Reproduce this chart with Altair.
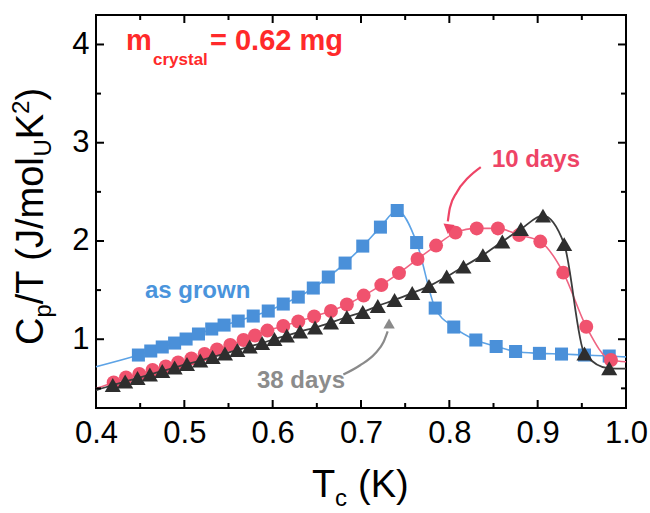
import altair as alt
import pandas as pd

# ---------------- data ----------------
blue_T = [0.448, 0.462, 0.475, 0.489, 0.502, 0.516, 0.531, 0.545, 0.561, 0.578,
          0.595, 0.612, 0.629, 0.646, 0.663, 0.682, 0.702, 0.722, 0.741, 0.763,
          0.784, 0.805, 0.830, 0.853, 0.875, 0.902, 0.927, 0.953, 0.981]
blue_C = [0.839, 0.880, 0.921, 0.961, 1.002, 1.053, 1.104, 1.144, 1.185, 1.236,
          1.287, 1.358, 1.429, 1.521, 1.633, 1.775, 1.948, 2.141, 2.310, 1.984,
          1.317, 1.124, 0.992, 0.926, 0.875, 0.856, 0.849, 0.839, 0.829]
blue_fit_ends_T = [0.4, 1.0]
blue_fit_ends_C = [0.72, 0.82]

red_T = [0.420, 0.434, 0.449, 0.464, 0.479, 0.493, 0.508, 0.523, 0.537, 0.552,
         0.567, 0.580, 0.594, 0.612, 0.629, 0.647, 0.666, 0.684, 0.703, 0.723,
         0.743, 0.764, 0.785, 0.807, 0.831, 0.855, 0.879, 0.903, 0.929, 0.955, 0.983]
red_C = [0.560, 0.610, 0.646, 0.687, 0.722, 0.763, 0.804, 0.849, 0.895, 0.941,
         0.992, 1.038, 1.088, 1.134, 1.180, 1.231, 1.287, 1.353, 1.444, 1.551,
         1.673, 1.816, 1.953, 2.085, 2.128, 2.128, 2.060, 1.994, 1.678, 1.127, 0.788]
red_fit_ends_T = [0.4, 1.0]
red_fit_ends_C = [0.50, 0.77]

black_T = [0.419, 0.433, 0.447, 0.461, 0.475, 0.489, 0.503, 0.518, 0.532, 0.546,
           0.560, 0.574, 0.588, 0.602, 0.616, 0.631, 0.648, 0.666, 0.684, 0.702,
           0.719, 0.738, 0.758, 0.777, 0.797, 0.816, 0.838, 0.860, 0.881, 0.906,
           0.930, 0.953, 0.981]
black_C = [0.534, 0.570, 0.605, 0.641, 0.676, 0.712, 0.748, 0.783, 0.819, 0.854,
           0.890, 0.926, 0.961, 1.002, 1.038, 1.078, 1.119, 1.170, 1.226, 1.277,
           1.338, 1.400, 1.470, 1.541, 1.638, 1.739, 1.856, 1.994, 2.121, 2.258,
           1.968, 0.854, 0.704]
black_fit_ends_T = [0.4, 1.0]
black_fit_ends_C = [0.48, 0.70]

# annotation arrows (data units)
arrow10_T = [0.8356, 0.8209, 0.8085, 0.8006, 0.7983]
arrow10_C = [2.752, 2.640, 2.497, 2.335, 2.20]
arrow10_head = (0.7990, 2.12)
arrow38_T = [0.6800, 0.6990, 0.7160, 0.7255, 0.7302]
arrow38_C = [0.640, 0.735, 0.855, 0.971, 1.080]
arrow38_head = (0.7318, 1.160)

# ticks
x_major = [0.4, 0.5, 0.6, 0.7, 0.8, 0.9, 1.0]
x_minor = [0.45, 0.55, 0.65, 0.75, 0.85, 0.95]
y_major = [1, 2, 3, 4]
y_minor = [0.5, 1.5, 2.5, 3.5]

X_DOMAIN = [0.4, 1.0]
Y_DOMAIN = [0.3, 4.3]
W, H = 530, 393
FONT = "Liberation Sans"

BLUE_M, BLUE_L = "#4a90d9", "#5da3e6"
RED_M, RED_L = "#f0526e", "#ef6482"
BLK_M, BLK_L = "#2e2e2e", "#3c3c3c"

xs = alt.Scale(domain=X_DOMAIN, nice=False, zero=False)
ys = alt.Scale(domain=Y_DOMAIN, nice=False, zero=False)
xaxis = alt.Axis(values=x_major, format=".1f", title=None, labelPadding=10,
                 labelFlush=False, labelOverlap=False, ticks=False, domain=False,
                 grid=False, tickSize=0)
yaxis = alt.Axis(values=y_major, format="d", title=None, labelPadding=7,
                 labelOverlap=False, ticks=False, domain=False, grid=False,
                 tickSize=0, labelFlush=False)


def X(field):
    return alt.X(f"{field}:Q", scale=xs, axis=xaxis)


def Y(field):
    return alt.Y(f"{field}:Q", scale=ys, axis=yaxis)


def series(T, C, ends_T, ends_C, lcol, mcol, shape, size, lw):
    line_df = pd.DataFrame({"T": [ends_T[0]] + T + [ends_T[1]],
                            "C": [ends_C[0]] + C + [ends_C[1]]})
    pts_df = pd.DataFrame({"T": T, "C": C})
    line = alt.Chart(line_df).mark_line(color=lcol, strokeWidth=lw,
                                        interpolate="monotone").encode(x=X("T"), y=Y("C"))
    pts = alt.Chart(pts_df).mark_point(shape=shape, filled=True, size=size, color=mcol,
                                       opacity=1).encode(x=X("T"), y=Y("C"))
    return [line, pts]


layers = []
layers += series(blue_T, blue_C, blue_fit_ends_T, blue_fit_ends_C, BLUE_L, BLUE_M, "square", 170, 1.6)
layers += series(red_T, red_C, red_fit_ends_T, red_fit_ends_C, RED_L, RED_M, "circle", 195, 1.6)
layers += series(black_T, black_C, black_fit_ends_T, black_fit_ends_C, BLK_L, BLK_M, "triangle-up", 260, 1.8)

# arrows
a10 = pd.DataFrame({"T": arrow10_T, "C": arrow10_C})
layers.append(alt.Chart(a10).mark_line(color="#ee4466", strokeWidth=2.2,
                                       interpolate="monotone").encode(x=X("T"), y=Y("C"), order=alt.Order("C:Q", sort="descending")))
layers.append(alt.Chart(pd.DataFrame({"T": [arrow10_head[0]], "C": [arrow10_head[1]]}))
              .mark_point(shape="triangle-down", filled=True, size=130, color="#ee4466", opacity=1, angle=8)
              .encode(x=X("T"), y=Y("C")))
a38 = pd.DataFrame({"T": arrow38_T, "C": arrow38_C})
layers.append(alt.Chart(a38).mark_line(color="#8a8a8a", strokeWidth=2.2,
                                       interpolate="monotone").encode(x=X("T"), y=Y("C")))
layers.append(alt.Chart(pd.DataFrame({"T": [arrow38_head[0]], "C": [arrow38_head[1]]}))
              .mark_point(shape="triangle-up", filled=True, size=130, color="#8a8a8a", opacity=1)
              .encode(x=X("T"), y=Y("C")))

# inward ticks on all four sides
for vals, ln in ((x_major, 8), (x_minor, 5)):
    df = pd.DataFrame({"v": vals})
    layers.append(alt.Chart(df).mark_rule(color="black", strokeWidth=2)
                  .encode(x=X("v"), y=alt.value(H), y2=alt.value(H - ln)))
    layers.append(alt.Chart(df).mark_rule(color="black", strokeWidth=2)
                  .encode(x=X("v"), y=alt.value(0), y2=alt.value(ln)))
for vals, ln in ((y_major, 8), (y_minor, 5)):
    df = pd.DataFrame({"v": vals})
    layers.append(alt.Chart(df).mark_rule(color="black", strokeWidth=2)
                  .encode(y=Y("v"), x=alt.value(0), x2=alt.value(ln)))
    layers.append(alt.Chart(df).mark_rule(color="black", strokeWidth=2)
                  .encode(y=Y("v"), x=alt.value(W), x2=alt.value(W - ln)))


def txt(s, x, y, size, color="black", weight="normal", angle=0):
    props = dict(align="left", baseline="alphabetic", font=FONT, fontSize=size,
                 fontWeight=weight, color=color)
    if angle:
        props["angle"] = angle
    return alt.Chart(pd.DataFrame({"s": [s]})).mark_text(**props).encode(
        text="s:N", x=alt.value(x), y=alt.value(y))


# annotations
layers.append(txt("as grown", 49, 283, 24, "#4a94dc", "bold"))
layers.append(txt("10 days", 396, 152, 24, "#ee4466", "bold"))
layers.append(txt("38 days", 161, 373, 24, "#8c8c8c", "bold"))
RED_TXT = "#ff2a2a"
layers.append(txt("m", 30, 35, 29, RED_TXT, "bold"))
layers.append(txt("crystal", 57, 50, 17, RED_TXT, "bold"))
layers.append(txt("= 0.62 mg", 114, 35, 29, RED_TXT, "bold"))

# x-axis title  T_c (K)
layers.append(txt("T", 216, 482, 38))
layers.append(txt("c", 239, 491, 24))
layers.append(txt("(K)", 262, 482, 38))

# y-axis title  C_p/T (J/mol_U K^2)  rotated
YX = -53
layers.append(txt("C", YX, 330, 38, angle=270))
layers.append(txt("p", YX + 8, 302.6, 24, angle=270))
layers.append(txt("/T (J/mol", YX, 289.3, 38, angle=270))
layers.append(txt("U", YX + 8, 141.5, 24, angle=270))
layers.append(txt("K", YX, 124.2, 38, angle=270))
layers.append(txt("2", YX - 14, 98.9, 24, angle=270))
layers.append(txt(")", YX, 85.6, 38, angle=270))

chart = alt.layer(*layers).properties(
    width=W, height=H,
    padding={"left": 96, "top": 15, "right": 24, "bottom": 105},
    autosize=alt.AutoSizeParams(type="none"),
    background="white",
).configure_view(stroke="black", strokeWidth=2).configure_axis(
    labelFont=FONT, labelFontSize=31, labelColor="black", grid=False
)

chart.save("out.html", embed_options={"renderer": "svg", "actions": False})
